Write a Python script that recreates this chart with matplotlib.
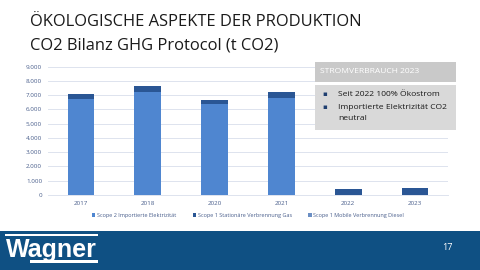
import numpy as np
import matplotlib.pyplot as plt
from matplotlib.patches import Rectangle
from matplotlib.ticker import FuncFormatter

years = ["2017", "2018", "2020", "2021", "2022", "2023"]
scope2_strom = [6710, 7245, 6380, 6825, 0, 0]
scope1_gas = [390, 420, 310, 420, 400, 490]
scope1_diesel = [0, 0, 0, 0, 0, 0]

series = {
    "Scope 2 Importierte Elektrizität": scope2_strom,
    "Scope 1 Stationäre Verbrennung Gas": scope1_gas,
    "Scope 1 Mobile Verbrennung Diesel": scope1_diesel,
}
colors = ["#4f86d0", "#2a5694", "#6b8fc4"]

plt.rcParams['font.family'] = ['Open Sans', 'DejaVu Sans']

fig = plt.figure(figsize=(4.8, 2.7), dpi=100)
fig.patch.set_facecolor("white")

# titles
fig.text(30 / 480, 1 - 22 / 270, "ÖKOLOGISCHE ASPEKTE DER PRODUKTION", fontsize=11.9,
         color="#1a1a1a", va="center", ha="left")
fig.text(30 / 480, 1 - 45 / 270, "CO2 Bilanz GHG Protocol (t CO2)", fontsize=11.9,
         color="#1a1a1a", va="center", ha="left")

ax = fig.add_axes([47.6 / 480, 1 - 195 / 270, (448.4 - 47.6) / 480, (195 - 66.7) / 270])
x = np.arange(len(years))
bottom = np.zeros(len(years))
for (name, vals), c in zip(series.items(), colors):
    ax.bar(x, vals, width=0.4, bottom=bottom, color=c, label=name, zorder=3)
    bottom += np.array(vals)

ax.set_xlim(-0.5, len(years) - 0.5)
ax.set_ylim(0, 9000)
ax.set_yticks(range(0, 9001, 1000))
ax.yaxis.set_major_formatter(FuncFormatter(lambda v, p: f"{int(v):,}".replace(",", ".")))
ax.set_xticks(x)
ax.set_xticklabels(years)
ax.tick_params(axis="both", length=0, labelsize=4.5, labelcolor="#4a5f8c", pad=4)
ax.grid(axis="y", color="#dde3ee", linewidth=0.7, zorder=0)
for s in ["top", "right", "left"]:
    ax.spines[s].set_visible(False)
ax.spines["bottom"].set_color("#dde3ee")
ax.spines["bottom"].set_linewidth(0.7)

ax.legend(loc="upper center", bbox_to_anchor=(0.5, -0.1), ncol=3, frameon=False,
          fontsize=4.0, labelcolor="#4a5f8c", handlelength=0.6, handleheight=0.6,
          handletextpad=0.3, columnspacing=3.0)

# info box
fig.patches.append(Rectangle((315 / 480, 1 - 82 / 270), 141 / 480, 20 / 270,
                             transform=fig.transFigure, facecolor="#c9c9c9", edgecolor="none"))
fig.text(320 / 480, 1 - 72 / 270, "STROMVERBRAUCH 2023", fontsize=6.1, color="white",
         va="center", ha="left")
fig.patches.append(Rectangle((315 / 480, 1 - 130 / 270), 141 / 480, 45 / 270,
                             transform=fig.transFigure, facecolor="#d9d9d9", edgecolor="none"))
fig.text(322 / 480, 1 - 94 / 270, "▪", fontsize=5, color="#1f3f70", va="center")
fig.text(322 / 480, 1 - 107 / 270, "▪", fontsize=5, color="#1f3f70", va="center")
fig.text(338 / 480, 1 - 94 / 270, "Seit 2022 100% Ökostrom", fontsize=6.1, color="#1a1a1a",
         va="center", ha="left")
fig.text(338 / 480, 1 - 107 / 270, "Importierte Elektrizität CO2", fontsize=6.1, color="#1a1a1a",
         va="center", ha="left")
fig.text(338 / 480, 1 - 119 / 270, "neutral", fontsize=6.1, color="#1a1a1a",
         va="center", ha="left")

# footer with logo
fig.patches.append(Rectangle((0, 0), 1, 39.3 / 270, transform=fig.transFigure,
                             facecolor="#0f5083", edgecolor="none"))
fig.patches.append(Rectangle((5 / 480, 1 - 236 / 270), 93 / 480, 2 / 270,
                             transform=fig.transFigure, facecolor="white", edgecolor="none"))
fig.patches.append(Rectangle((30 / 480, 1 - 262.5 / 270), 68 / 480, 3 / 270,
                             transform=fig.transFigure, facecolor="white", edgecolor="none"))
fig.text(6 / 480, 1 - 257 / 270, "Wagner", fontsize=18, fontweight="bold", color="white",
         va="baseline", ha="left", family=["Liberation Sans", "DejaVu Sans"])
fig.text(447 / 480, 1 - 248 / 270, "17", fontsize=6.5, color="white", va="center", ha="center")

fig.savefig("out.png", dpi=100)
